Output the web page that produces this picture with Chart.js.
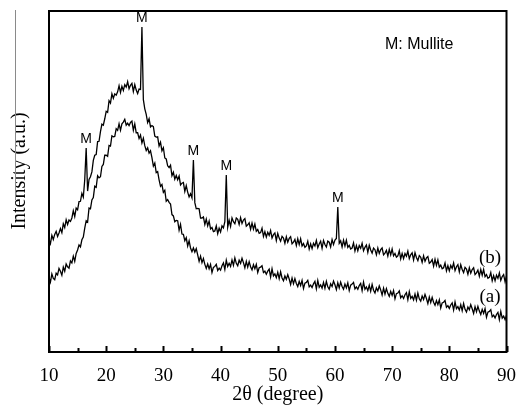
<!DOCTYPE html>
<html>
<head>
<meta charset="utf-8">
<script src="https://cdn.jsdelivr.net/npm/chart.js@4"></script>
<style>
  html, body { margin: 0; padding: 0; background: #fff; }
  canvas { display: block; }
</style>
</head>
<body>
<canvas id="xrdChart" width="521" height="409"></canvas>
<script>
// 2θ sampling of the scans
const angleStart = 10;
const angleStep = 0.25;

// (a) lower pattern, one row per degree (x.00, x.25, x.50, x.75)
const seriesA = [
  21.9, 20.5, 22.9, 21.6,  21.2, 23.1, 22.6, 24.5,  23.7, 22.5, 24.9, 23.7,  25.8, 25.0, 24.6, 26.7,
  26.1, 28.1, 26.6, 28.9,  29.9, 31.4, 30.8, 32.9,  33.7, 36.3, 38.5, 38.1,  42.2, 42.0, 44.6, 45.3,
  48.6, 48.3, 51.7, 51.1,  51.4, 54.4, 55.0, 57.7,  57.7, 57.4, 60.6, 60.4,  63.4, 63.1, 63.2, 65.5,
  65.0, 66.9, 65.0, 66.9,  67.4, 68.2, 66.5, 67.1,  66.4, 67.3, 67.7, 65.0,  66.9, 64.3, 64.3, 62.6,
  63.6, 61.3, 62.7, 60.5,  59.1, 59.9, 58.3, 59.0,  57.0, 54.5, 55.4, 52.6,  52.9, 50.5, 48.6, 49.1,
  46.8, 47.4, 44.2, 44.7,  43.9, 43.4, 40.3, 39.9,  38.2, 38.6, 38.5, 35.7,  37.4, 34.6, 34.5, 32.6,
  33.5, 31.1, 32.6, 30.5,  29.4, 30.5, 29.3, 30.3,  28.5, 26.6, 28.1, 26.2,  27.4, 25.7, 24.5, 25.8,
  24.4, 25.7, 23.3, 24.8,  25.1, 25.7, 23.9, 24.6,  24.0, 25.3, 26.1, 24.2,  26.9, 25.1, 26.0, 25.1,
  27.0, 25.4, 27.6, 26.0,  25.3, 26.9, 26.0, 27.5,  26.2, 24.7, 26.6, 24.9,  26.5, 25.0, 24.1, 25.6,
  24.4, 25.7, 23.3, 24.7,  24.9, 25.3, 23.3, 23.7,  22.8, 23.7, 24.3, 22.0,  24.4, 22.3, 22.9, 21.8,
  23.4, 21.5, 23.5, 21.7,  20.9, 22.3, 21.3, 22.7,  21.4, 19.8, 21.7, 20.0,  21.5, 20.1, 19.2, 20.7,
  19.5, 21.0, 18.6, 20.2,  20.4, 21.0, 19.1, 19.6,  18.9, 20.0, 20.7, 18.5,  21.0, 19.0, 19.7, 18.7,
  20.4, 18.7, 20.7, 19.1,  18.4, 20.0, 19.2, 20.8,  19.7, 18.3, 20.3, 18.8,  20.5, 19.2, 18.4, 19.9,
  18.8, 20.3, 18.0, 19.6,  19.9, 20.4, 18.5, 19.1,  18.4, 19.5, 20.1, 18.0,  20.5, 18.4, 19.1, 18.0,
  19.6, 17.8, 19.8, 18.1,  17.3, 18.8, 17.9, 19.4,  18.2, 16.7, 18.7, 17.0,  18.6, 17.2, 16.3, 17.8,
  16.6, 18.0, 15.6, 17.1,  17.3, 17.9, 15.9, 16.5,  15.7, 16.8, 17.4, 15.3,  17.7, 15.7, 16.3, 15.3,
  17.0, 15.2, 17.3, 15.6,  14.9, 16.4, 15.4, 16.9,  15.7, 14.2, 16.1, 14.5,  16.0, 14.6, 13.7, 15.1,
  13.9, 15.3, 12.9, 14.4,  14.6, 15.1, 13.1, 13.6,  12.8, 13.8, 14.4, 12.3,  14.7, 12.7, 13.3, 12.3,
  13.9, 12.1, 14.2, 12.5,  11.7, 13.2, 12.4, 13.9,  12.7, 11.3, 13.3, 11.8,  13.4, 12.0, 11.0, 12.5,
  11.3, 12.7, 10.2, 11.7,  11.9, 12.4, 10.3, 10.8,  10.0, 11.0, 11.6, 9.5,   11.9, 9.9, 10.5, 9.5,
  10.8
];

// (b) upper pattern with mullite reflections
const seriesB = [
  33.0, 31.8, 34.2, 33.0,  34.5, 35.4, 33.9, 34.9,  36.2, 35.0, 37.6, 36.5,  38.8, 37.4, 38.7, 38.3,
  39.3, 41.4, 39.7, 42.2,  41.7, 44.1, 44.2, 46.5,  45.4, 50.5, 59.8, 47.2,  50.6, 51.4, 52.8, 56.2,
  57.7, 57.9, 61.7, 61.8,  64.6, 66.8, 66.5, 68.4,  70.6, 70.3, 73.7, 73.0,  75.7, 74.4, 75.7, 75.3,
  76.3, 78.1, 76.1, 77.9,  76.7, 78.4, 77.7, 79.3,  77.2, 78.2, 78.8, 76.4,  78.4, 76.8, 75.8, 77.1,
  77.0, 95.3, 74.0, 71.3,  69.7, 67.3, 68.4, 66.0,  66.4, 66.1, 63.3, 63.0,  63.1, 60.4, 61.5, 59.0,
  59.9, 56.9, 56.6, 54.6,  54.1, 54.8, 51.7, 52.7,  50.7, 51.8, 50.5, 51.6,  49.0, 49.5, 49.7, 47.1,
  48.8, 46.9, 45.5, 46.4,  45.2, 56.3, 43.8, 42.0,  42.1, 42.0, 39.3, 39.3,  39.6, 37.4, 39.0, 37.0,
  38.4, 36.1, 36.5, 35.3,  35.5, 37.0, 34.7, 36.3,  35.2, 37.0, 36.4, 38.2,  51.9, 36.6, 38.6, 36.8,
  39.3, 38.2, 37.6, 39.3,  38.9, 37.4, 39.4, 37.7,  38.7, 39.1, 36.9, 37.3,  37.9, 36.0, 37.8, 36.0,
  37.5, 35.4, 35.9, 34.8,  35.0, 36.3, 33.9, 35.3,  33.7, 35.1, 34.2, 35.6,  33.4, 34.4, 34.9, 32.7,
  34.8, 33.4, 32.5, 33.9,  33.4, 31.9, 33.8, 32.2,  33.3, 33.8, 31.7, 32.2,  33.0, 31.2, 33.2, 31.5,
  33.2, 31.1, 31.8, 30.7,  31.1, 32.5, 30.2, 31.7,  30.3, 31.9, 31.1, 32.7,  30.6, 31.7, 32.5, 30.4,
  32.7, 31.5, 30.8, 32.5,  32.2, 30.8, 33.0, 31.5,  32.8, 33.3, 42.5, 31.9,  32.6, 30.8, 32.8, 31.1,
  32.8, 30.7, 31.3, 30.2,  30.5, 32.0, 29.6, 31.2,  29.7, 31.2, 30.4, 31.9,  29.7, 30.7, 31.4, 29.2,
  31.3, 29.9, 29.0, 30.5,  30.0, 28.5, 30.5, 28.9,  30.0, 30.5, 28.5, 29.0,  29.8, 28.1, 30.1, 28.5,
  30.2, 28.2, 28.9, 27.8,  28.2, 29.7, 27.3, 28.9,  27.4, 28.9, 28.1, 29.6,  27.4, 28.5, 29.1, 27.0,
  29.1, 27.7, 26.8, 28.3,  27.8, 26.3, 28.2, 26.6,  27.6, 28.0, 26.0, 26.4,  27.1, 25.2, 27.2, 25.4,
  27.0, 24.9, 25.5, 24.4,  24.7, 26.1, 23.8, 25.3,  23.8, 25.4, 24.5, 26.1,  23.9, 25.0, 25.6, 23.5,
  25.6, 24.2, 23.3, 24.8,  24.3, 22.8, 24.7, 23.1,  24.2, 24.7, 22.7, 23.2,  24.0, 22.2, 24.2, 22.5,
  24.2, 22.1, 22.7, 21.6,  21.9, 23.3, 20.9, 22.4,  20.9, 22.5, 21.6, 23.2,  21.0, 22.1, 22.7, 20.6,
  22.3
];

// mullite reflections marked "M" on pattern (b)
const peakAngles = [16.5, 26.25, 35.25, 41, 60.5];

const majorTicks = [10, 20, 30, 40, 50, 60, 70, 80, 90];
const minorTicks = [15, 25, 35, 45, 55, 65, 75, 85];

const curveLabels = ["(a)", "(b)"];

function toPoints(values) {
  return values.map((v, i) => ({ x: angleStart + i * angleStep, y: v }));
}

function valueAt(values, angle) {
  return values[Math.round((angle - angleStart) / angleStep)];
}

// frame, inward ticks, peak marks and the other annotations
const decorations = {
  id: "decorations",
  afterDatasetsDraw(chart) {
    const { ctx, chartArea: a, scales: { x, y } } = chart;
    ctx.save();

    ctx.strokeStyle = "#000";
    ctx.lineWidth = 2;
    ctx.strokeRect(a.left, a.top, a.right - a.left, a.bottom - a.top);

    ctx.beginPath();
    majorTicks.forEach(v => {
      const px = Math.round(x.getPixelForValue(v)) + 0.5;
      ctx.moveTo(px, a.bottom);
      ctx.lineTo(px, a.bottom - 6);
    });
    minorTicks.forEach(v => {
      const px = Math.round(x.getPixelForValue(v)) + 0.5;
      ctx.moveTo(px, a.bottom);
      ctx.lineTo(px, a.bottom - 4);
    });
    ctx.stroke();

    ctx.fillStyle = "#000";
    ctx.font = '14px "Liberation Sans", Arial, sans-serif';
    ctx.textAlign = "center";
    ctx.textBaseline = "middle";
    peakAngles.forEach(p => {
      const py = y.getPixelForValue(valueAt(seriesB, p));
      ctx.fillText("M", x.getPixelForValue(p), py - 9);
    });

    ctx.font = '16px "Liberation Sans", Arial, sans-serif';
    ctx.textAlign = "left";
    ctx.fillText("M: Mullite", 385, 45);

    ctx.font = '19px "Liberation Serif", "Times New Roman", serif';
    ctx.textAlign = "center";
    ctx.fillText(curveLabels[0], 490, 297);
    ctx.fillText(curveLabels[1], 490, 258);

    // y axis title
    ctx.save();
    ctx.translate(20, 171);
    ctx.rotate(-Math.PI / 2);
    ctx.font = '20px "Liberation Serif", "Times New Roman", serif';
    ctx.fillText("Intensity (a.u.)", 0, 0);
    ctx.restore();

    // faint rule left of the title, as in the scan
    ctx.strokeStyle = "#8a8a8a";
    ctx.lineWidth = 1;
    ctx.beginPath();
    ctx.moveTo(15.5, 10);
    ctx.lineTo(15.5, 200);
    ctx.stroke();

    ctx.restore();
  }
};

const lineStyle = {
  borderColor: "#000",
  borderWidth: 1.3,
  pointRadius: 0,
  tension: 0,
  fill: false
};

new Chart(document.getElementById("xrdChart"), {
  type: "line",
  data: {
    datasets: [
      { label: curveLabels[0], data: toPoints(seriesA), ...lineStyle },
      { label: curveLabels[1], data: toPoints(seriesB), ...lineStyle }
    ]
  },
  options: {
    responsive: false,
    animation: false,
    devicePixelRatio: 1,
    layout: { padding: { left: 0, top: 11, right: 12, bottom: 0 } },
    plugins: {
      legend: { display: false },
      tooltip: { enabled: false }
    },
    scales: {
      x: {
        type: "linear",
        min: 10,
        max: 90,
        afterFit: scale => { scale.height = 57; },
        border: { display: false },
        grid: { display: false },
        ticks: {
          stepSize: 10,
          padding: 5,
          color: "#000",
          maxRotation: 0,
          font: { family: '"Liberation Serif", "Times New Roman", serif', size: 19 }
        },
        title: {
          display: true,
          text: "2θ (degree)",
          color: "#000",
          padding: { top: 0, bottom: 2 },
          font: { family: '"Liberation Serif", "Times New Roman", serif', size: 20 }
        }
      },
      y: {
        min: 0,
        max: 100,
        afterFit: scale => { scale.width = 49; },
        border: { display: false },
        grid: { display: false },
        ticks: { display: false }
      }
    }
  },
  plugins: [decorations]
});
</script>
</body>
</html>
